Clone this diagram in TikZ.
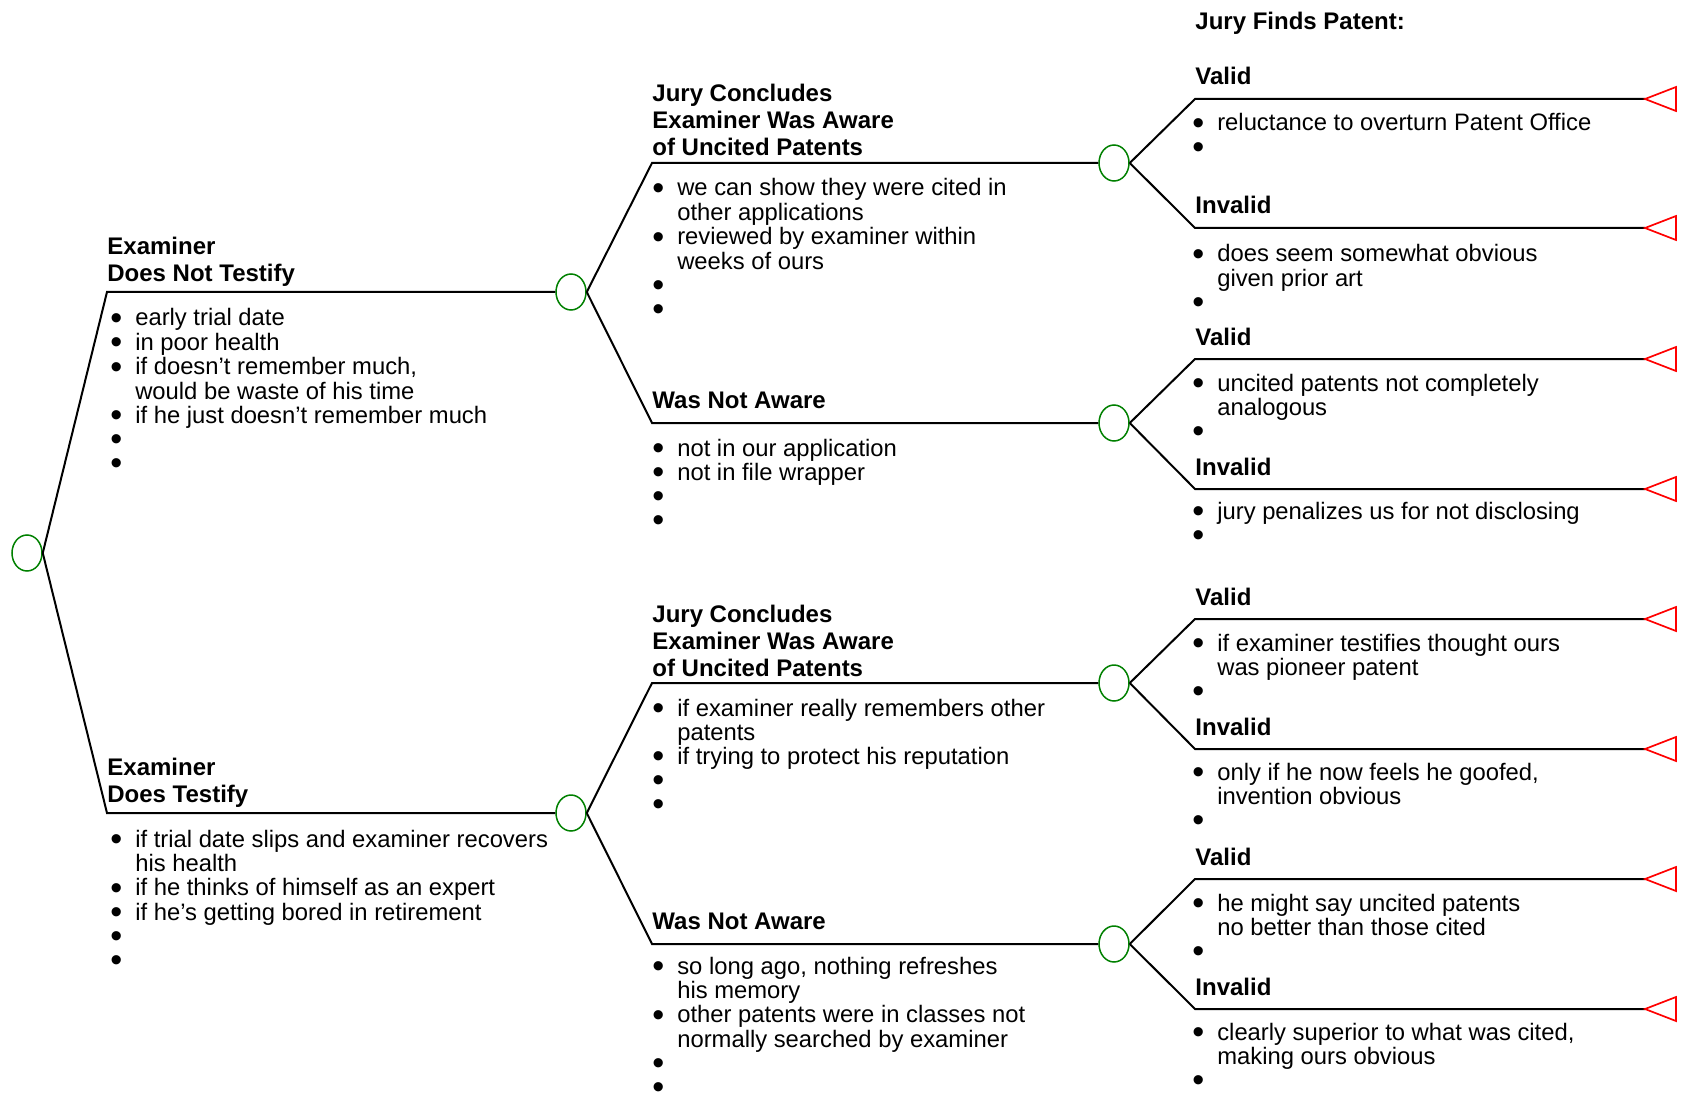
\documentclass[tikz,border=0pt]{standalone}
\usepackage{fontspec}
\setmainfont{Liberation Sans}
\usetikzlibrary{shapes.geometric}
\definecolor{NodeGreen}{HTML}{008000}
\definecolor{LeafRed}{HTML}{FF0000}
\newcommand{\itm}{\raisebox{-1.6pt}[0pt][0pt]{\fontsize{17pt}{12pt}\selectfont\textbullet}}

\begin{document}
\begin{tikzpicture}[x=0.5pt,y=-0.5pt,
  branch/.style={draw,line width=1pt},
  chance/.style={draw=NodeGreen,ellipse,line width=0.75pt,minimum width=15pt,minimum height=18pt,inner sep=0pt},
  leaf/.style={draw=LeafRed,line width=0.85pt,line join=miter},
  head/.style={anchor=base west,inner sep=0pt,font=\fontsize{12pt}{13.5pt}\selectfont\bfseries},
  items/.style={anchor=base west,inner sep=0pt,font=\fontsize{11.9pt}{12pt}\selectfont}
]
\useasboundingbox (0,0) rectangle (1684,1096);

% chance nodes
\node[chance] (root) at (27,553) {};
\node[chance] (ex1) at (571,292) {};
\node[chance] (ex2) at (571,813) {};
\node[chance] (aw1) at (1114,163) {};
\node[chance] (na1) at (1114,423) {};
\node[chance] (aw2) at (1114,683) {};
\node[chance] (na2) at (1114,944) {};

% branch starts
\coordinate (ex1s) at (107,292);
\coordinate (ex2s) at (107,813);
\coordinate (aw1s) at (652,163);
\coordinate (na1s) at (652,423);
\coordinate (aw2s) at (652,683);
\coordinate (na2s) at (652,944);
\coordinate (v1s) at (1195,99);   \coordinate (v1e) at (1645,99);
\coordinate (i1s) at (1195,228);  \coordinate (i1e) at (1645,228);
\coordinate (v2s) at (1195,359);  \coordinate (v2e) at (1645,359);
\coordinate (i2s) at (1195,489);  \coordinate (i2e) at (1645,489);
\coordinate (v3s) at (1195,619);  \coordinate (v3e) at (1645,619);
\coordinate (i3s) at (1195,749);  \coordinate (i3e) at (1645,749);
\coordinate (v4s) at (1195,879);  \coordinate (v4e) at (1645,879);
\coordinate (i4s) at (1195,1009); \coordinate (i4e) at (1645,1009);

% branches
\draw[branch] (root.east) -- (ex1s) -- (ex1.west);
\draw[branch] (root.east) -- (ex2s) -- (ex2.west);
\draw[branch] (ex1.east) -- (aw1s) -- (aw1.west);
\draw[branch] (ex1.east) -- (na1s) -- (na1.west);
\draw[branch] (ex2.east) -- (aw2s) -- (aw2.west);
\draw[branch] (ex2.east) -- (na2s) -- (na2.west);
\draw[branch] (aw1.east) -- (v1s) -- (v1e);
\draw[branch] (aw1.east) -- (i1s) -- (i1e);
\draw[branch] (na1.east) -- (v2s) -- (v2e);
\draw[branch] (na1.east) -- (i2s) -- (i2e);
\draw[branch] (aw2.east) -- (v3s) -- (v3e);
\draw[branch] (aw2.east) -- (i3s) -- (i3e);
\draw[branch] (na2.east) -- (v4s) -- (v4e);
\draw[branch] (na2.east) -- (i4s) -- (i4e);

% end points
\foreach \e in {v1e,i1e,v2e,i2e,v3e,i3e,v4e,i4e}
  \draw[leaf] (\e) -- ++(31,-12) -- ++(0,24) -- cycle;

% level 1
\node[head] (ex1h) at (107,282) {\begin{tabular}[b]{@{}l@{}}Examiner\\Does Not Testify\end{tabular}};
\node[items] (ex1l) at (110,326) {\begin{tabular}[t]{@{}l@{\hspace{6.5pt}}l@{}}
  \itm & early trial date\\
  \itm & in poor health\\
  \itm & if doesn’t remember much,\\
       & would be waste of his time\\
  \itm & if he just doesn’t remember much\\
  \itm & \\
  \itm & \end{tabular}};
\node[head] (ex2h) at (107,802) {\begin{tabular}[b]{@{}l@{}}Examiner\\Does Testify\end{tabular}};
\node[items] (ex2l) at (110,847) {\begin{tabular}[t]{@{}l@{\hspace{6.5pt}}l@{}}
  \itm & if trial date slips and examiner recovers\\
       & his health\\
  \itm & if he thinks of himself as an expert\\
  \itm & if he’s getting bored in retirement\\
  \itm & \\
  \itm & \end{tabular}};

% level 2
\node[head] (aw1h) at (652,156) {\begin{tabular}[b]{@{}l@{}}Jury Concludes\\Examiner Was Aware\\of Uncited Patents\end{tabular}};
\node[items] (aw1l) at (652,196) {\begin{tabular}[t]{@{}l@{\hspace{6.5pt}}l@{}}
  \itm & we can show they were cited in\\
       & other applications\\
  \itm & reviewed by examiner within\\
       & weeks of ours\\
  \itm & \\
  \itm & \end{tabular}};
\node[head] (na1h) at (652,408) {Was Not Aware};
\node[items] (na1l) at (652,456) {\begin{tabular}[t]{@{}l@{\hspace{6.5pt}}l@{}}
  \itm & not in our application\\
  \itm & not in file wrapper\\
  \itm & \\
  \itm & \end{tabular}};
\node[head] (aw2h) at (652,676) {\begin{tabular}[b]{@{}l@{}}Jury Concludes\\Examiner Was Aware\\of Uncited Patents\end{tabular}};
\node[items] (aw2l) at (652,716) {\begin{tabular}[t]{@{}l@{\hspace{6.5pt}}l@{}}
  \itm & if examiner really remembers other\\
       & patents\\
  \itm & if trying to protect his reputation\\
  \itm & \\
  \itm & \end{tabular}};
\node[head] (na2h) at (652,929) {Was Not Aware};
\node[items] (na2l) at (652,974) {\begin{tabular}[t]{@{}l@{\hspace{6.5pt}}l@{}}
  \itm & so long ago, nothing refreshes\\
       & his memory\\
  \itm & other patents were in classes not\\
       & normally searched by examiner\\
  \itm & \\
  \itm & \end{tabular}};

% level 3
\node[head] (title) at (1195,30) {Jury Finds Patent:};
\node[head] (v1h) at (1195,85) {Valid};
\node[items] (v1l) at (1192,131) {\begin{tabular}[t]{@{}l@{\hspace{6.5pt}}l@{}}
  \itm & reluctance to overturn Patent Office\\
  \itm & \end{tabular}};
\node[head] (i1h) at (1195,214) {Invalid};
\node[items] (i1l) at (1192,262) {\begin{tabular}[t]{@{}l@{\hspace{6.5pt}}l@{}}
  \itm & does seem somewhat obvious\\
       & given prior art\\
  \itm & \end{tabular}};
\node[head] (v2h) at (1195,345) {Valid};
\node[items] (v2l) at (1192,391) {\begin{tabular}[t]{@{}l@{\hspace{6.5pt}}l@{}}
  \itm & uncited patents not completely\\
       & analogous\\
  \itm & \end{tabular}};
\node[head] (i2h) at (1195,475) {Invalid};
\node[items] (i2l) at (1192,519) {\begin{tabular}[t]{@{}l@{\hspace{6.5pt}}l@{}}
  \itm & jury penalizes us for not disclosing\\
  \itm & \end{tabular}};
\node[head] (v3h) at (1195,605) {Valid};
\node[items] (v3l) at (1192,651) {\begin{tabular}[t]{@{}l@{\hspace{6.5pt}}l@{}}
  \itm & if examiner testifies thought ours\\
       & was pioneer patent\\
  \itm & \end{tabular}};
\node[head] (i3h) at (1195,735) {Invalid};
\node[items] (i3l) at (1192,780) {\begin{tabular}[t]{@{}l@{\hspace{6.5pt}}l@{}}
  \itm & only if he now feels he goofed,\\
       & invention obvious\\
  \itm & \end{tabular}};
\node[head] (v4h) at (1195,865) {Valid};
\node[items] (v4l) at (1192,911) {\begin{tabular}[t]{@{}l@{\hspace{6.5pt}}l@{}}
  \itm & he might say uncited patents\\
       & no better than those cited\\
  \itm & \end{tabular}};
\node[head] (i4h) at (1195,995) {Invalid};
\node[items] (i4l) at (1192,1040) {\begin{tabular}[t]{@{}l@{\hspace{6.5pt}}l@{}}
  \itm & clearly superior to what was cited,\\
       & making ours obvious\\
  \itm & \end{tabular}};
\end{tikzpicture}
\end{document}
